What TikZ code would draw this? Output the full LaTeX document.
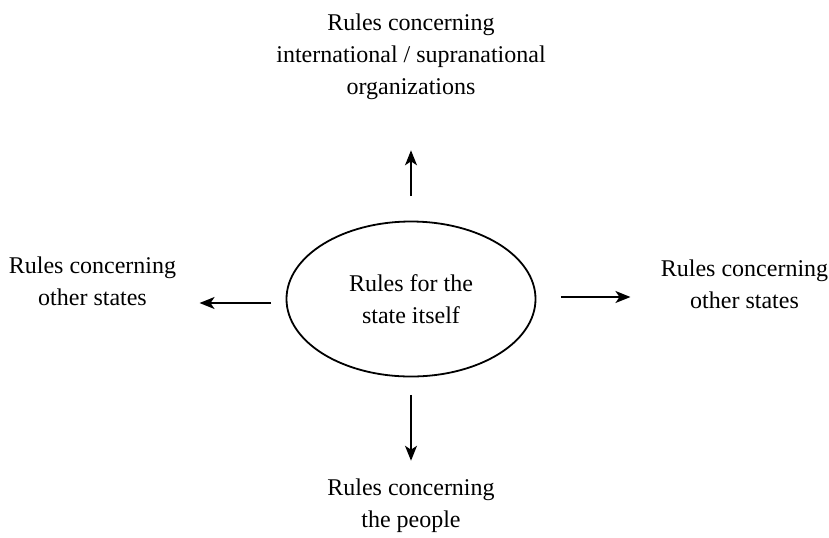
\documentclass[tikz,border=0pt]{standalone}
\usepackage{fontspec}
\setmainfont{Liberation Serif}
\usetikzlibrary{arrows.meta,shapes.geometric}

\begin{document}
\begin{tikzpicture}[x=0.5pt,y=-0.5pt,
        rulestext/.style={align=center,inner sep=0pt,font=\fontsize{12pt}{16pt}\selectfont},
        rulearrow/.style={-{Stealth[length=7.5pt,width=6pt,inset=2pt]},line width=0.8pt}]
            \useasboundingbox (0,0) rectangle (829,537);

            \node[ellipse,draw,line width=0.9pt,inner sep=0pt,minimum width=124.5pt,minimum height=77.5pt,rulestext] (self) at (411,299) {Rules for the\\state itself};
            \node[rulestext] (intl) at (411,57) {Rules concerning\\international / supranational\\organizations};
            \node[rulestext] (leftstates) at (92.5,281) {Rules concerning\\other states};
            \node[rulestext] (rightstates) at (744.5,284) {Rules concerning\\other states};
            \node[rulestext] (people) at (411,506) {Rules concerning\\the people};

            \draw[rulearrow,shorten <=12.25pt,shorten >=25pt] (self.north) -- (intl.south);
            \draw[rulearrow,shorten <=8.75pt,shorten >=9pt] (self.south) -- (people.north);
            \draw[rulearrow,shorten <=7.25pt,shorten >=11.5pt] ([yshift=-2pt]self.west) -- ([yshift=-2pt]self.west -| leftstates.east);
            \draw[rulearrow,shorten <=12.25pt,shorten >=15pt] ([yshift=1pt]self.east) -- ([yshift=1pt]self.east -| rightstates.west);
        \end{tikzpicture}
\end{document}
